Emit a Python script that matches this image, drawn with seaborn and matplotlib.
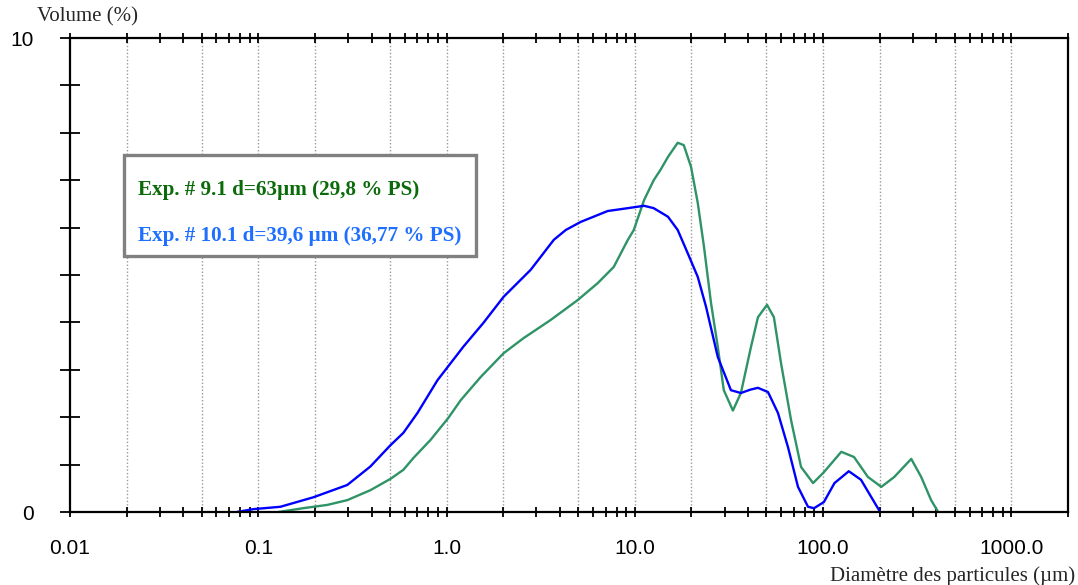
import numpy as np
import pandas as pd
import matplotlib
matplotlib.use("Agg")
import matplotlib.pyplot as plt
import matplotlib.ticker as mticker
from matplotlib.patches import Rectangle
import seaborn as sns

# particle size (um) and volume (%)
d_exp10 = [0.077, 0.094, 0.131, 0.196, 0.297, 0.394, 0.504, 0.590, 0.701, 0.895,
           1.23, 1.57, 2.01, 2.80, 3.71, 4.30, 5.16, 7.18, 9.18, 11.2, 12.6,
           15.0, 16.9, 19.1, 21.6, 23.9, 27.6, 32.4, 36.6, 41.0, 45.1, 51.0,
           57.6, 65.1, 73.6, 83.2, 89.6, 101, 115, 137, 159, 180, 201]
v_exp10 = [0.0, 0.06, 0.11, 0.31, 0.57, 0.96, 1.41, 1.67, 2.09, 2.78,
           3.49, 3.99, 4.54, 5.11, 5.74, 5.95, 6.12, 6.35, 6.41, 6.46, 6.41,
           6.23, 5.95, 5.46, 4.96, 4.33, 3.27, 2.57, 2.51, 2.58, 2.62, 2.53,
           2.09, 1.37, 0.53, 0.11, 0.08, 0.21, 0.61, 0.86, 0.68, 0.32, 0.0]

d_exp9 = [0.128, 0.173, 0.233, 0.297, 0.394, 0.504, 0.590, 0.667, 0.822, 1.02,
          1.19, 1.52, 2.01, 2.57, 3.57, 4.97, 6.36, 7.73, 9.18, 9.88,
          11.2, 12.6, 13.7, 15.0, 16.9, 18.2, 19.9, 21.6, 23.3, 25.4,
          27.6, 29.7, 33.2, 36.6, 41.4, 45.1, 50.4, 54.8, 59.8, 67.6,
          76.4, 88.5, 101, 125, 146, 173, 204, 239, 294, 332, 375, 409]
v_exp9 = [0.0, 0.08, 0.15, 0.25, 0.46, 0.70, 0.89, 1.14, 1.52, 1.98,
          2.36, 2.85, 3.35, 3.67, 4.05, 4.47, 4.83, 5.17, 5.74, 5.95,
          6.58, 7.00, 7.22, 7.49, 7.79, 7.74, 7.28, 6.52, 5.60, 4.41,
          3.48, 2.57, 2.14, 2.51, 3.48, 4.11, 4.37, 4.11, 3.14, 1.94,
          0.95, 0.61, 0.84, 1.27, 1.16, 0.74, 0.53, 0.74, 1.12, 0.74, 0.25, 0.0]

label_exp9 = "Exp. # 9.1 d=63µm (29,8 % PS)"
label_exp10 = "Exp. # 10.1 d=39,6 µm (36,77 % PS)"
grid_pos = [0.02, 0.05, 0.1, 0.2, 0.5, 1, 2, 5, 10, 20, 50, 100, 200, 500, 1000]
x_ticks = [0.01, 0.1, 1, 10, 100, 1000]
x_labels = ["0.01", "0.1", "1.0", "10.0", "100.0", "1000.0"]

df = pd.concat([
    pd.DataFrame({"d": d_exp9, "v": v_exp9, "exp": "9.1"}),
    pd.DataFrame({"d": d_exp10, "v": v_exp10, "exp": "10.1"}),
])

sns.set_style("ticks")
plt.rcParams['font.family'] = ['Liberation Sans', 'DejaVu Sans']

fig = plt.figure(figsize=(10.78, 5.85), dpi=100)
ax = fig.add_axes([70/1078, 73/585, 998/1078, 474/585])

for xg in grid_pos:
    ax.axvline(xg, color="#999999", ls=(0, (1, 1.5)), lw=1, zorder=0)

sns.lineplot(data=df, x="d", y="v", hue="exp", hue_order=["9.1", "10.1"],
             palette={"9.1": "#2e9366", "10.1": "#0000ff"}, lw=1.7,
             sort=False, estimator=None, legend=False, ax=ax)

ax.set_xscale("log")
ax.set_xlim(0.01, 2000)
ax.set_ylim(0, 10)
ax.set_xlabel("")
ax.set_ylabel("")

ax.xaxis.set_major_locator(mticker.FixedLocator(x_ticks))
ax.xaxis.set_major_formatter(mticker.FixedFormatter(x_labels))
ax.xaxis.set_minor_locator(mticker.LogLocator(base=10, subs=np.arange(2, 10), numticks=20))
ax.xaxis.set_minor_formatter(mticker.NullFormatter())
ax.yaxis.set_major_locator(mticker.MultipleLocator(1))
ax.yaxis.set_major_formatter(mticker.FuncFormatter(lambda v, p: f"{v:.0f}" if v in (0, 10) else ""))

ax.tick_params(axis="x", which="both", direction="inout", length=7, width=1.3,
               top=True, labelsize=15, pad=16, colors="black")
ax.tick_params(axis="y", which="major", direction="inout", length=14, width=1.3,
               labelsize=15, pad=19, colors="black")
for s in ax.spines.values():
    s.set_visible(True)
    s.set_linewidth(1.6)
    s.set_color("black")

# legend box
ax.add_patch(Rectangle((124/1078, (585-256)/585), 352/1078, 101/585, transform=fig.transFigure,
                       facecolor="white", edgecolor="#808080", lw=2.4, zorder=5))
fig.text(138/1078, 1-190/585, label_exp9, color="#0b6b0b", fontsize=15.2, fontweight="bold",
         family="Liberation Serif", va="center", ha="left", zorder=6)
fig.text(138/1078, 1-236/585, label_exp10, color="#1f6fff", fontsize=15.2, fontweight="bold",
         family="Liberation Serif", va="center", ha="left", zorder=6)

fig.text(37/1078, 1-17/585, "Volume (%)", fontsize=15, family="Liberation Serif",
         va="center", ha="left")
fig.text(1075/1078, 1-576/585, "Diamètre des particules (µm)", fontsize=15,
         family="Liberation Serif", va="center", ha="right")

fig.savefig("out.png", dpi=100)
